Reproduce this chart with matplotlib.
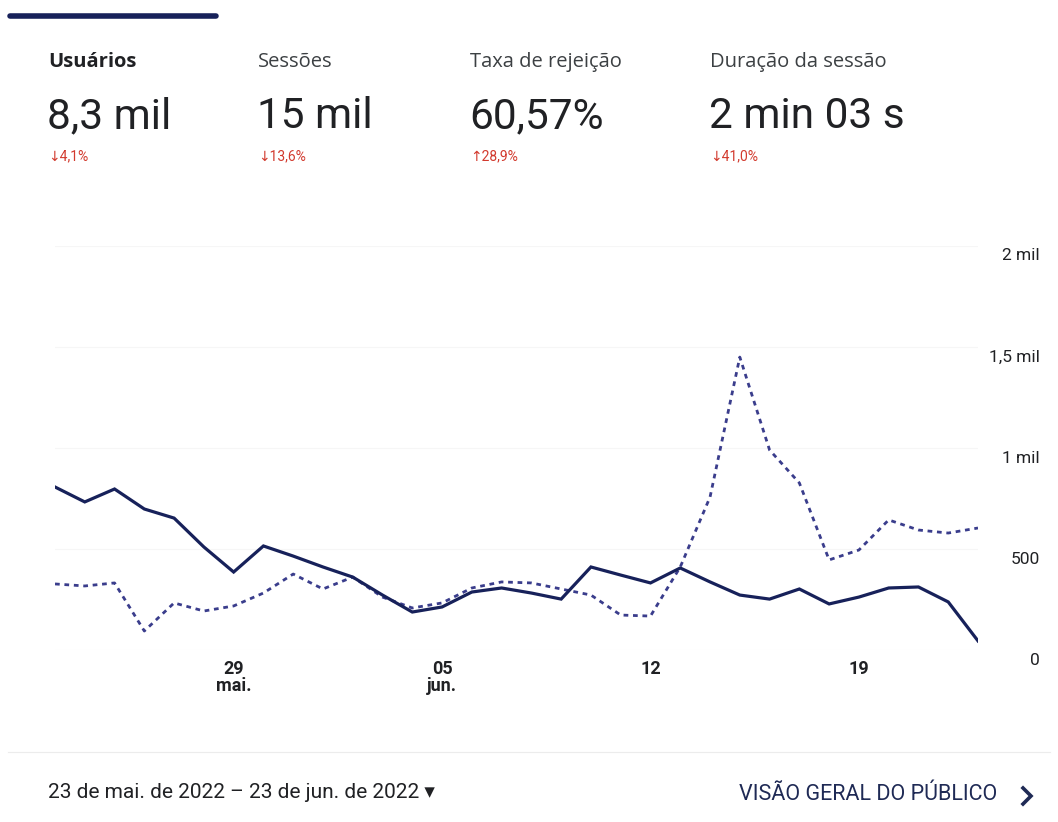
import matplotlib
matplotlib.use("Agg")
import matplotlib.pyplot as plt
import matplotlib.transforms as mtransforms

plt.rcParams['font.family'] = ['Roboto', 'DejaVu Sans']

# ──────────────────────────────────────────────────────────────────────────────
# Данные (23 mai – 23 jun 2022, по дням)
# ──────────────────────────────────────────────────────────────────────────────
days = list(range(32))
usuarios_atual = [807, 733, 797, 698, 653, 510, 386, 515, 465, 411, 361,
                  272, 188, 213, 287, 307, 282, 252, 411, 371, 332, 406,
                  337, 272, 252, 302, 228, 262, 307, 312, 238, 45]
usuarios_anterior = [327, 317, 332, 94, 233, 193, 218, 282, 376, 302, 361,
                     262, 208, 233, 307, 337, 332, 302, 272, 173, 168, 411,
                     757, 1450, 990, 827, 446, 495, 644, 594, 579, 604]

tick_pos = [6, 13, 20, 27]
tick_labels = ["29\nmai.", "05\njun.", "12", "19"]
y_ticks = [0, 500, 1000, 1500, 2000]
y_labels = ["0", "500", "1 mil", "1,5 mil", "2 mil"]

metric_names = ["Usuários", "Sessões", "Taxa de rejeição", "Duração da sessão"]
metric_values = ["8,3 mil", "15 mil", "60,57%", "2 min 03 s"]
metric_deltas = ["↓4,1%", "↓13,6%", "↑28,9%", "↓41,0%"]
metric_x = [48, 258, 470, 710]

W, H = 1058, 822
NAVY = "#17215a"
RED = "#d23a2e"


def fx(px):
    return px / W


def fy(py):
    return 1 - py / H


fig = plt.figure(figsize=(W / 100, H / 100), dpi=100)
fig.patch.set_facecolor("white")

# полоса активной вкладки
fig.add_artist(plt.Line2D([fx(10), fx(216)], [fy(16), fy(16)], color=NAVY,
                          lw=4, solid_capstyle="round"))

# ──────────────────────────────────────────────────────────────────────────────
# Показатели сверху
# ──────────────────────────────────────────────────────────────────────────────
for i, (name, val, delta, x) in enumerate(zip(metric_names, metric_values,
                                               metric_deltas, metric_x)):
    fig.text(fx(x), fy(62), name, fontsize=14.5, color="#202124" if i == 0 else "#3c4043",
             fontweight="bold" if i == 0 else "normal", va="center", ha="left",
             family=['Open Sans', 'DejaVu Sans'])
    fig.text(fx(x - 1), fy(117), val, fontsize=30.5, color="#202124",
             va="center", ha="left")
    fig.text(fx(x), fy(156), delta, fontsize=10, color=RED,
             va="center", ha="left", family=['Roboto', 'DejaVu Sans'])

# ──────────────────────────────────────────────────────────────────────────────
# График
# ──────────────────────────────────────────────────────────────────────────────
ax = fig.add_axes([fx(55), fy(650), fx(978) - fx(55), fy(246) - fy(650)])
ax.plot(days, usuarios_anterior, color="#3a3d8c", lw=2.0,
        linestyle=(0, (1.7, 1.7)), zorder=2)
ax.plot(days, usuarios_atual, color=NAVY, lw=2.3, zorder=3,
        solid_joinstyle="miter")
ax.set_xlim(0, 31)
ax.set_ylim(0, 2000)

for v in y_ticks:
    ax.axhline(v, color="#f6f6f6", lw=0.8, zorder=0)

for spine in ax.spines.values():
    spine.set_visible(False)
ax.set_yticks([])
ax.set_xticks(tick_pos)
ax.set_xticklabels(tick_labels, fontsize=13, color="#202124",
                   fontweight="bold", linespacing=0.95)
ax.tick_params(axis="x", length=0, pad=7)

# подписи оси Y справа
trans = mtransforms.blended_transform_factory(fig.transFigure, ax.transData)
offset = mtransforms.ScaledTranslation(0, -10 / 100, fig.dpi_scale_trans)
for v, lab in zip(y_ticks, y_labels):
    ax.text(fx(1040), v, lab, transform=trans + offset, ha="right", va="center",
            fontsize=12.5, color="#202124", clip_on=False)

# ──────────────────────────────────────────────────────────────────────────────
# Нижняя панель
# ──────────────────────────────────────────────────────────────────────────────
fig.add_artist(plt.Line2D([fx(8), fx(1050)], [fy(752), fy(752)],
                          color="#ececec", lw=0.8))
fig.text(fx(48), fy(792), "23 de mai. de 2022 – 23 de jun. de 2022 ▾",
         fontsize=15, color="#202124", va="center", ha="left")
fig.text(fx(997), fy(794), "VISÃO GERAL DO PÚBLICO", fontsize=15.5,
         color="#1f2a55", va="center", ha="right")
# стрелка-шеврон
fig.add_artist(plt.Line2D([fx(1023), fx(1031), fx(1023)],
                          [fy(788), fy(796), fy(804)], color="#1f2a55",
                          lw=2.6, solid_joinstyle="miter"))

fig.savefig("out.png", dpi=100)
